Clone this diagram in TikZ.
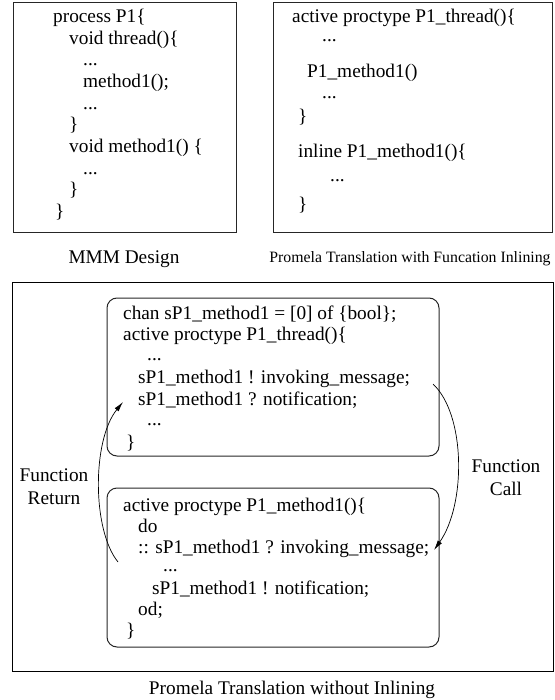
\documentclass[tikz,border=0pt]{standalone}
\usepackage{fontspec}
\setmainfont{Liberation Serif}
\usetikzlibrary{arrows.meta}
\begin{document}
\begin{tikzpicture}[x=1pt,y=-1pt,
  code/.style={anchor=base west, inner sep=0pt, font=\fontsize{19.3}{22}\selectfont},
  lbl/.style={inner sep=0pt, align=center, font=\fontsize{19.3}{23}\selectfont},
  smalllbl/.style={inner sep=0pt, font=\fontsize{15.8}{18}\selectfont},
  frame/.style={draw=black!85, line width=1pt},
  rbox/.style={draw=black!85, line width=1pt, rounded corners=10pt},
  flow/.style={-{Latex[length=10pt,width=5pt]}, line width=0.7pt}]
\useasboundingbox (0,0) rectangle (554,700);
% top left box
\draw[frame] (13,3) rectangle (236,233);
\node[code] (a1) at (53,23) {process P1\{};
\node[code] (a2) at (69,45) {void thread()\{};
\node[code] (a3) at (83,66) {...};
\node[code] (a4) at (83,88) {method1();};
\node[code] (a5) at (83,110) {...};
\node[code] (a6) at (69,131) {\}};
\node[code] (a7) at (69,153) {void method1() \{};
\node[code] (a8) at (83,175) {...};
\node[code] (a9) at (69,196) {\}};
\node[code] (a10) at (55,218) {\}};
\node[lbl] (capA) at (124,259) {MMM Design};
% top right box
\draw[frame] (273,3) rectangle (552,233);
\node[code] (b1) at (292,23) {active proctype P1\_thread()\{};
\node[code] (b2) at (322,42) {...};
\node[code] (b3) at (307,78) {P1\_method1()};
\node[code] (b4) at (322,99) {...};
\node[code] (b5) at (298,123) {\}};
\node[code] (b6) at (298,158) {inline P1\_method1()\{};
\node[code] (b7) at (330,182) {...};
\node[code] (b8) at (298,211) {\}};
\node[smalllbl] (capB) at (410,259) {Promela Translation with Funcation Inlining};
% bottom big box
\draw[frame, draw=black] (12,282) rectangle (553,671);
\draw[rbox] (107,298) rectangle (439,456);
\draw[rbox] (107,488) rectangle (439,647);
\node[code] (c1) at (123,319) {chan sP1\_method1 = [0] of \{bool\};};
\node[code] (c2) at (123,340.5) {active proctype P1\_thread()\{};
\node[code] (c3) at (147,360) {...};
\node[code] (c4) at (138,383.5) {sP1\_method1 ! invoking\_message;};
\node[code] (c5) at (138,405) {sP1\_method1 ? notification;};
\node[code] (c6) at (147,425) {...};
\node[code] (c7) at (126,448) {\}};
\node[code] (d1) at (123,511) {active proctype P1\_method1()\{};
\node[code] (d2) at (138,532) {do};
\node[code] (d3) at (138,553) {:: sP1\_method1 ? invoking\_message;};
\node[code] (d4) at (163,571) {...};
\node[code] (d5) at (152,594) {sP1\_method1 ! notification;};
\node[code] (d6) at (138,615) {od;};
\node[code] (d7) at (126,636) {\}};
\node[lbl] (ret) at (54,487) {Function\\Return};
\node[lbl] (call) at (506,478) {Function\\Call};
\node[lbl] (capC) at (292,690) {Promela Translation without Inlining};
% arrows
\coordinate (cs) at (433,384);
\coordinate (ce) at (434,550);
\coordinate (rs) at (118,562);
\coordinate (re) at (123,402);
\draw[flow] (cs) .. controls (466,415) and (466,505) .. (ce);
\draw[flow] (rs) .. controls (92,530) and (92,440) .. (re);
\end{tikzpicture}
\end{document}
